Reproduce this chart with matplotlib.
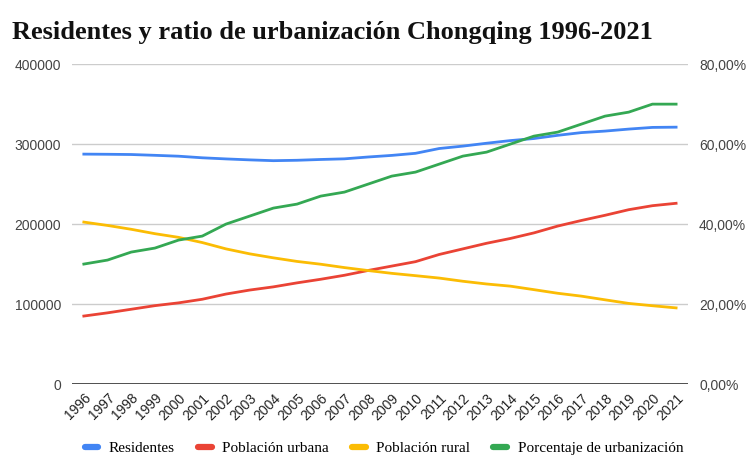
import matplotlib.pyplot as plt
from matplotlib.ticker import FuncFormatter
from matplotlib.lines import Line2D

years = list(range(1996, 2022))
residentes = [287500, 287300, 287000, 286000, 284900, 282900, 281500, 280300, 279300, 279800,
              280800, 281600, 283900, 285900, 288500, 294500, 297500, 301100, 304400, 307000,
              311000, 314400, 316300, 318800, 320900, 321200]
urbana = [85000, 89000, 93500, 98000, 101500, 106000, 112500, 117500, 121500, 126500,
          131000, 136000, 142000, 147500, 153000, 162000, 169000, 176000, 182000, 189000,
          197500, 204500, 211000, 218000, 223000, 226000]
rural = [202500, 198300, 193500, 188000, 183400, 176900, 169000, 162800, 157800, 153300,
         149800, 145600, 141900, 138400, 135500, 132500, 128500, 125100, 122400, 118000,
         113500, 109900, 105300, 100800, 97900, 95200]
porcentaje = [30, 31, 33, 34, 36, 37, 40, 42, 44, 45, 47, 48, 50, 52, 53, 55, 57, 58, 60, 62,
              63, 65, 67, 68, 70, 70]

colores = ['#4285f4', '#ea4335', '#fbbc04', '#34a853']
nombres = ['Residentes', 'Población urbana', 'Población rural', 'Porcentaje de urbanización']

fig = plt.figure(figsize=(7.53, 4.55), dpi=100)
ax = fig.add_axes([0.0956, 0.156, 0.818, 0.703])
ax2 = ax.twinx()

x = list(range(len(years)))
ax.plot(x, residentes, color=colores[0], lw=2)
ax.plot(x, urbana, color=colores[1], lw=2)
ax.plot(x, rural, color=colores[2], lw=2)
ax2.plot(x, porcentaje, color=colores[3], lw=2)

ax.set_xlim(-0.5, len(years) - 0.5)
ax.set_ylim(0, 400000)
ax2.set_ylim(0, 80)
ax.set_yticks([0, 100000, 200000, 300000, 400000])
ax2.set_yticks([0, 20, 40, 60, 80])
ax2.yaxis.set_major_formatter(FuncFormatter(lambda v, p: f'{v:.2f}%'.replace('.', ',')))

ax.grid(axis='y', color='#cccccc', lw=1)
ax.axhline(0, color='#333333', lw=1.2)
for a in (ax, ax2):
    for s in a.spines.values():
        s.set_visible(False)
    a.tick_params(length=0, labelsize=10, labelcolor='#444444', pad=8)
    for t in a.get_yticklabels():
        t.set_family('Liberation Sans')

ax.set_xticks(x)
ax.set_xticklabels([str(y) for y in years], rotation=45, ha='right', rotation_mode='anchor',
                   fontsize=10, family='Liberation Sans', color='#222222')
ax.tick_params(axis='x', pad=5)

fig.text(0.016, 0.915, 'Residentes y ratio de urbanización Chongqing 1996-2021',
         fontsize=19, fontweight='bold', family='Liberation Serif', color='#111111')

handles = [Line2D([], [], color=c, lw=4.5, solid_capstyle='round') for c in colores]
fig.legend(handles, nombres, loc='lower center', bbox_to_anchor=(0.51, -0.03), ncol=4,
           frameon=False, handlelength=0.9, handletextpad=0.7, columnspacing=1.5,
           prop={'family': 'Liberation Serif', 'size': 11})

plt.savefig('out.png')
